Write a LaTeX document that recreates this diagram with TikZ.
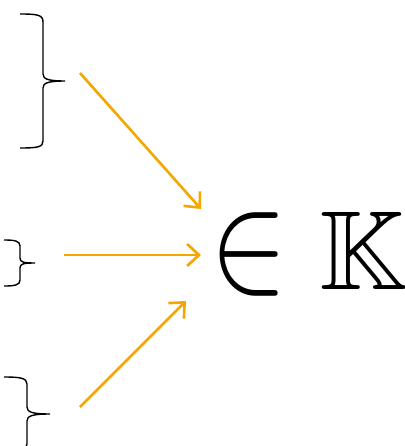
\documentclass[tikz,border=0pt]{standalone}
\usepackage{amsmath,amssymb}
\usetikzlibrary{positioning, arrows.meta}

\definecolor{arrorange}{RGB}{242,168,0}

\begin{document}
\begin{tikzpicture}[x=0.02cm, y=-0.02cm,
    brace/.style={line width=0.8pt, black},
    toset/.style={-{Straight Barb[length=2.4mm, width=4.4mm]}, line width=1.5pt, arrorange}]
        \useasboundingbox (0,0) rectangle (405,446);
        \clip (0,0) rectangle (405,446);
        % the three braces
        \draw[brace] (20,14) .. controls (38,14) and (43,15) .. (43,22) -- (43,74)
            .. controls (43,79) and (48,81) .. (65,81) .. controls (48,81) and (43,83) .. (43,88)
            -- (43,141) .. controls (43,147) and (38,148) .. (20,148);
        \draw[brace] (4,240) .. controls (15,240) and (20,241) .. (20,246) -- (20,258)
            .. controls (20,262) and (23,263) .. (35,263) .. controls (23,263) and (20,264) .. (20,268)
            -- (20,280) .. controls (20,285) and (15,286) .. (4,286);
        \draw[brace] (4,377) .. controls (20,377) and (27,378) .. (27,384) -- (27,407)
            .. controls (27,412) and (32,414) .. (50,414) .. controls (32,414) and (27,416) .. (27,421)
            -- (27,444) .. controls (27,450) and (20,451) .. (4,451);
        % the set
        \node[inner sep=0] (elem) at (249,254) {\scalebox{6.6}[8.2]{$\in$}};
        \node[inner sep=0, font=\fontsize{64}{64}\selectfont, anchor=west] (field) at (319,251) {$\mathbb{K}$};
        \coordinate (topstart) at (80,73);
        \coordinate (midstart) at (64,255);
        \coordinate (botstart) at (80,407);
        \coordinate (topend) at (201,209);
        \coordinate (midend) at (201,255);
        \coordinate (botend) at (186,301);
        \draw[toset] (topstart) -- (topend);
        \draw[toset] (midstart) -- (midend);
        \draw[toset] (botstart) -- (botend);
     \end{tikzpicture}
\end{document}
